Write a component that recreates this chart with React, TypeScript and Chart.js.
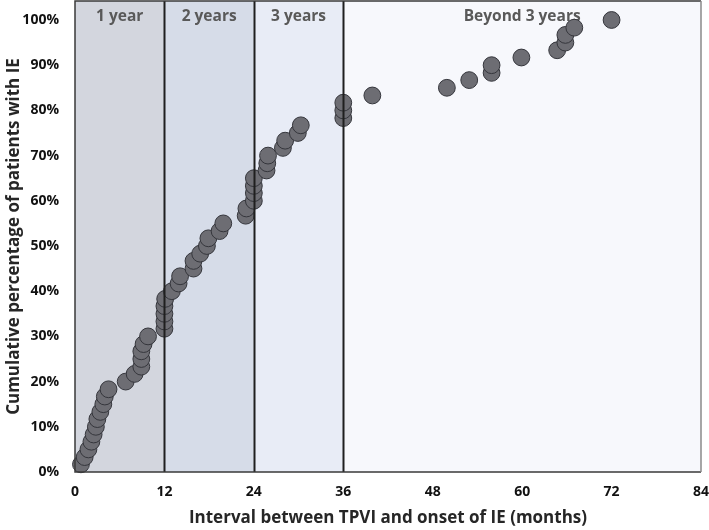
import React, { useEffect, useRef } from "react";
import { Chart, registerables } from "chart.js";

Chart.register(...registerables);

// Interval between TPVI and onset of IE (months), one entry per patient
const months = [
  0.8, 1.3, 1.8, 2.2, 2.5, 2.8, 3.0, 3.4, 3.8, 4.0,
  4.5, 6.8, 8.0, 8.9, 8.9, 8.9, 9.2, 9.8, 12.0, 12.0,
  12.0, 12.0, 12.1, 13.0, 13.9, 14.1, 15.9, 15.9, 16.8, 17.7,
  17.9, 19.4, 19.9, 22.9, 23.0, 24.0, 24.0, 24.0, 24.0, 25.7,
  25.8, 25.9, 27.9, 28.2, 29.9, 30.3, 36.0, 36.0, 36.0, 39.9,
  49.9, 52.9, 55.9, 55.9, 59.9, 64.7, 65.8, 65.8, 67.0, 72.0,
];

// Cumulative percentage of patients with IE
const cumulativePct = [
  1.7, 3.3, 5.0, 6.7, 8.3, 10.0, 11.7, 13.3, 15.0, 16.7,
  18.3, 20.0, 21.7, 23.3, 25.0, 26.7, 28.3, 30.0, 31.7, 33.3,
  35.0, 36.7, 38.3, 40.0, 41.7, 43.3, 45.0, 46.7, 48.3, 50.0,
  51.7, 53.3, 55.0, 56.7, 58.3, 60.0, 61.7, 63.3, 65.0, 66.7,
  68.3, 70.0, 71.7, 73.3, 75.0, 76.7, 78.3, 80.0, 81.7, 83.3,
  85.0, 86.7, 88.3, 90.0, 91.7, 93.3, 95.0, 96.7, 98.3, 100.0,
];

const xTicks = [0, 12, 24, 36, 48, 60, 72, 84];
const yTicks = [0, 10, 20, 30, 40, 50, 60, 70, 80, 90, 100];

const periodBounds = [0, 12, 24, 36, 84];
const periodLabels = ["1 year", "2 years", "3 years", "Beyond 3 years"];
const dividerMonths = [12, 24, 36];

const periodColors = ["#d3d6de", "#d6dce8", "#e8ecf6", "#f7f8fc"];
const FONT = "'Open Sans', sans-serif";

const periodsPlugin = {
  id: "periods",
  beforeDatasetsDraw(chart: any) {
    const { ctx, chartArea, scales } = chart;
    const x = scales.x;
    const { top, bottom } = chartArea;
    ctx.save();
    for (let i = 0; i < periodBounds.length - 1; i++) {
      const x0 = x.getPixelForValue(periodBounds[i]);
      const x1 = x.getPixelForValue(periodBounds[i + 1]);
      ctx.fillStyle = periodColors[i];
      ctx.fillRect(x0, top, x1 - x0, bottom - top);
    }
    ctx.fillStyle = "#595959";
    ctx.font = `bold 15.5px ${FONT}`;
    ctx.textAlign = "center";
    ctx.textBaseline = "middle";
    for (let i = 0; i < periodLabels.length; i++) {
      const cx = x.getPixelForValue((periodBounds[i] + periodBounds[i + 1]) / 2);
      ctx.fillText(periodLabels[i], cx, top + 16);
    }
    ctx.restore();
  },
  afterDatasetsDraw(chart: any) {
    const { ctx, chartArea, scales } = chart;
    const x = scales.x;
    const { left, right, top, bottom } = chartArea;
    ctx.save();
    ctx.strokeStyle = "#1f1f1f";
    ctx.lineWidth = 2;
    for (const m of dividerMonths) {
      const px = Math.round(x.getPixelForValue(m)) + 0.5;
      ctx.beginPath();
      ctx.moveTo(px, top);
      ctx.lineTo(px, bottom);
      ctx.stroke();
    }
    ctx.lineWidth = 1.5;
    ctx.strokeStyle = "#3a3a3a";
    ctx.beginPath();
    ctx.moveTo(right, bottom);
    ctx.lineTo(left, bottom);
    ctx.lineTo(left, top);
    ctx.lineTo(right, top);
    ctx.stroke();
    ctx.strokeStyle = "#8a8a8a";
    ctx.beginPath();
    ctx.moveTo(right, top);
    ctx.lineTo(right, bottom);
    ctx.stroke();
    ctx.restore();
  },
};

export default function App() {
  const canvasRef = useRef<HTMLCanvasElement | null>(null);

  useEffect(() => {
    if (!canvasRef.current) return;
    const points = months.map((m, i) => ({ x: m, y: cumulativePct[i] }));
    const chart = new Chart(canvasRef.current, {
      type: "scatter",
      data: {
        datasets: [
          {
            data: points,
            pointRadius: 8.4,
            pointHoverRadius: 8.4,
            backgroundColor: "#6d6d73",
            borderColor: "#35363c",
            borderWidth: 1,
            clip: false,
          },
        ],
      },
      options: {
        responsive: false,
        animation: false,
        events: [],
        layout: { autoPadding: false, padding: { top: 1, right: 8, bottom: 0, left: 0 } },
        plugins: {
          legend: { display: false },
          tooltip: { enabled: false },
        },
        scales: {
          x: {
            type: "linear",
            min: 0,
            max: 84,
            grid: { display: false, drawTicks: false },
            border: { display: false },
            afterBuildTicks: (scale: any) => {
              scale.ticks = xTicks.map((v) => ({ value: v }));
            },
            afterFit: (scale: any) => {
              scale.height = 58;
              scale.paddingLeft = 0;
              scale.paddingRight = 0;
              scale.paddingTop = 0;
              scale.paddingBottom = 0;
            },
            ticks: {
              padding: 12,
              color: "#111",
              font: { family: FONT, weight: "bold", size: 14 },
              maxRotation: 0,
            },
            title: {
              display: true,
              text: "Interval between TPVI and onset of IE (months)",
              color: "#262626",
              font: { family: FONT, weight: "bold", size: 17 },
              padding: { top: 0, bottom: 2 },
            },
          },
          y: {
            type: "linear",
            min: 0,
            max: 104.2,
            grid: { display: false, drawTicks: false },
            border: { display: false },
            afterBuildTicks: (scale: any) => {
              scale.ticks = yTicks.map((v) => ({ value: v }));
            },
            afterFit: (scale: any) => {
              scale.width = 75;
              scale.paddingLeft = 0;
              scale.paddingRight = 0;
              scale.paddingTop = 0;
              scale.paddingBottom = 0;
            },
            ticks: {
              padding: 16,
              color: "#111",
              font: { family: FONT, weight: "bold", size: 14 },
              callback: (v: any) => `${v}%`,
            },
            title: {
              display: true,
              text: "Cumulative percentage of patients with IE",
              color: "#262626",
              font: { family: FONT, weight: "bold", size: 17 },
              padding: { top: 4, bottom: 0 },
            },
          },
        },
      },
      plugins: [periodsPlugin],
    });
    return () => chart.destroy();
  }, []);

  return (
    <div style={{ position: "fixed", left: 0, top: 0, width: 709, height: 530, background: "#fff" }}>
      <canvas ref={canvasRef} width={709} height={530} style={{ display: "block" }} />
    </div>
  );
}
